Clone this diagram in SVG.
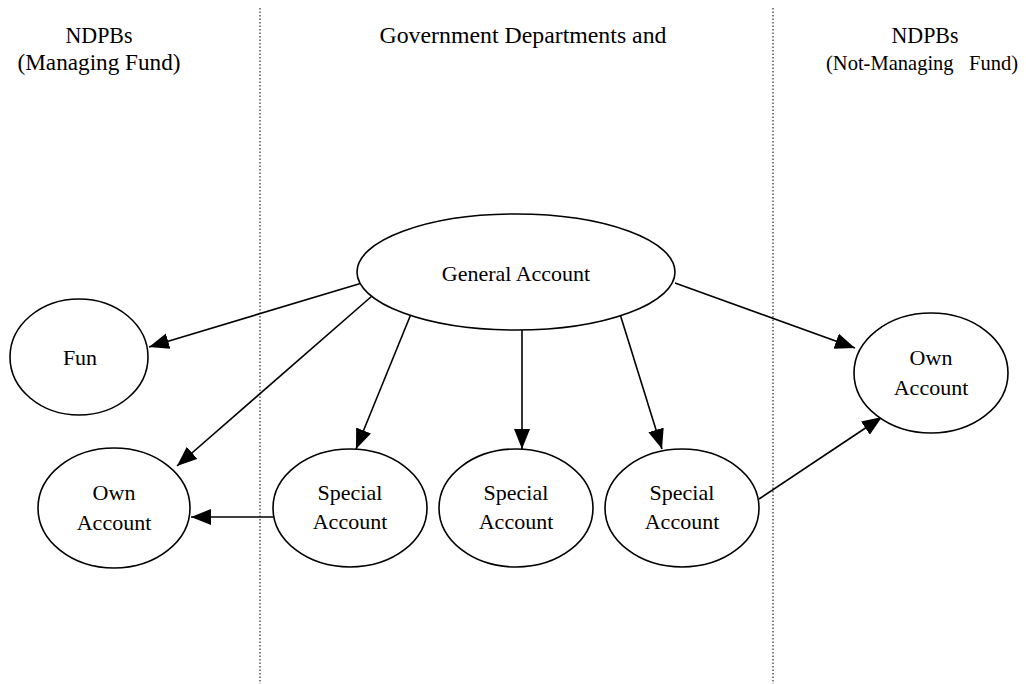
<svg xmlns="http://www.w3.org/2000/svg" width="1026" height="684" viewBox="0 0 1026 684">
<style>
text{font-family:"Liberation Serif","Times New Roman",serif;font-size:22px;fill:#000;text-anchor:middle}
.hdr{font-size:23px}
.hdr2{font-size:21px}
.node ellipse{fill:#fff;stroke:#000;stroke-width:1.6}
.div{stroke:#000;stroke-width:1;stroke-dasharray:1.5,2}
.edge{stroke:#000;stroke-width:1.6;fill:none;marker-end:url(#arr)}
</style>
<defs>
<marker id="arr" markerUnits="userSpaceOnUse" markerWidth="21" markerHeight="17" refX="20" refY="8" orient="auto"><path d="M0,0 L20,8 L0,16 z" fill="#000"/></marker>
</defs>
<rect width="1026" height="684" fill="#fff"/>
<g id="dividers">
<line class="div" x1="260" y1="8" x2="260" y2="684"/>
<line class="div" x1="773" y1="8" x2="773" y2="684"/>
</g>
<g id="headers">
<text class="hdr" x="99" y="43" textLength="67" lengthAdjust="spacingAndGlyphs">NDPBs</text>
<text class="hdr" x="99" y="70" textLength="163" lengthAdjust="spacingAndGlyphs">(Managing Fund)</text>
<text class="hdr" x="523" y="43" textLength="287" lengthAdjust="spacingAndGlyphs">Government Departments and</text>
<text class="hdr" x="925" y="43" textLength="67" lengthAdjust="spacingAndGlyphs">NDPBs</text>
<text class="hdr hdr2" x="922" y="70" textLength="192" lengthAdjust="spacingAndGlyphs" xml:space="preserve">(Not-Managing   Fund)</text>
</g>
<g id="connectors">
<line class="edge" x1="362" y1="283" x2="149" y2="347"/>
<line class="edge" x1="372" y1="296" x2="177" y2="466"/>
<line class="edge" x1="411" y1="314" x2="356" y2="449"/>
<line class="edge" x1="522" y1="330" x2="522" y2="449"/>
<line class="edge" x1="620" y1="314" x2="662" y2="449"/>
<line class="edge" x1="675" y1="283" x2="855" y2="348"/>
<line class="edge" x1="759" y1="499" x2="882" y2="417"/>
<line class="edge" x1="273" y1="517" x2="191" y2="517"/>
</g>
<g id="general" class="node"><ellipse cx="516" cy="272" rx="159" ry="58"/><text x="516" y="281">General Account</text></g>
<g id="fun" class="node"><ellipse cx="79" cy="357" rx="69" ry="58"/><text x="80" y="365">Fun</text></g>
<g id="own-left" class="node"><ellipse cx="114" cy="508" rx="76" ry="60"/><text x="114" y="500">Own</text><text x="114" y="530">Account</text></g>
<g id="special1" class="node"><ellipse cx="350" cy="508" rx="77" ry="59"/><text x="350" y="500">Special</text><text x="350" y="529">Account</text></g>
<g id="special2" class="node"><ellipse cx="516" cy="508" rx="77" ry="59"/><text x="516" y="500">Special</text><text x="516" y="529">Account</text></g>
<g id="special3" class="node"><ellipse cx="682" cy="508" rx="77" ry="59"/><text x="682" y="500">Special</text><text x="682" y="529">Account</text></g>
<g id="own-right" class="node"><ellipse cx="931" cy="373" rx="77" ry="60"/><text x="931" y="365">Own</text><text x="931" y="395">Account</text></g>
</svg>
